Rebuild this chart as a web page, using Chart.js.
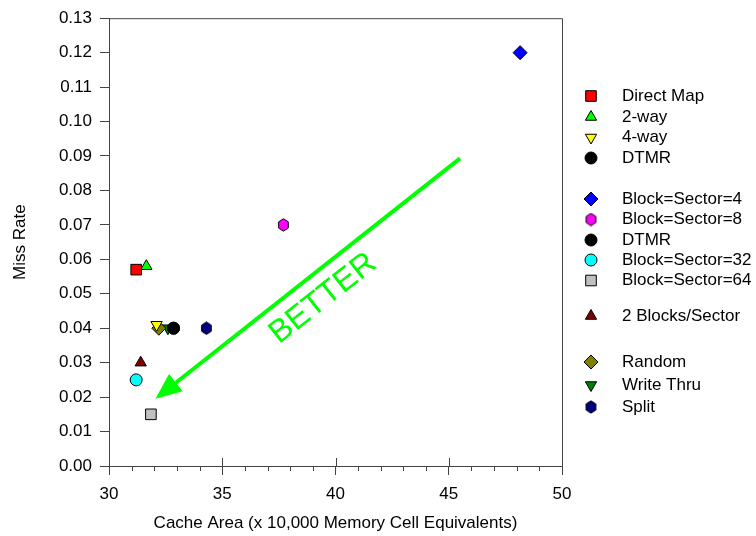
<!DOCTYPE html>
<html>
<head>
<meta charset="utf-8">
<script src="https://cdn.jsdelivr.net/npm/chart.js@4.4.0/dist/chart.umd.min.js"></script>
<style>
  body { margin: 0; background: #fff; }
  #wrap { width: 756px; height: 536px; }
</style>
</head>
<body>
<div id="wrap"><canvas id="chart" width="756" height="536"></canvas></div>
<script>
// series
const seriesNames = ['Direct Map', '2-way', '4-way', 'DTMR', 'Block=Sector=4', 'Block=Sector=8', 'DTMR',
    'Block=Sector=32', 'Block=Sector=64', '2 Blocks/Sector', 'Random', 'Write Thru', 'Split'];
const cacheArea = [31.2, 31.65, 32.1, 32.85, 48.15, 37.7, 32.85, 31.2, 31.85, 31.4, 32.2, 32.6, 34.3];
const missRate = [0.057, 0.058, 0.041, 0.040, 0.120, 0.070, 0.040, 0.025, 0.015, 0.030, 0.040, 0.040, 0.040];
const markerColors = ['#ff0000', '#00ff00', '#ffff00', '#000000', '#0000ff', '#ff00ff', '#000000',
    '#00ffff', '#c0c0c0', '#800000', '#808000', '#008000', '#000080'];
const markerShapes = ['square', 'up', 'down', 'circle', 'diamond', 'hexagon', 'circle',
    'circle', 'square', 'up', 'diamond', 'down', 'hexagon'];

const xTicks = [30, 35, 40, 45, 50];
const yTicks = [0, 0.01, 0.02, 0.03, 0.04, 0.05, 0.06, 0.07, 0.08, 0.09, 0.10, 0.11, 0.12, 0.13];

// "BETTER" arrow, in data units
const arrowFrom = [45.5, 0.0893];
const arrowTo = [32.05, 0.0195];
const betterAt = [39.45, 0.0486];

// legend row centres (the original leaves gaps between groups)
const legendRowY = [96, 117, 137.5, 158, 199, 219.5, 240, 260, 280.5, 316, 362, 385, 407];

const FONT = 'Liberation Sans, Arial, sans-serif';
Chart.defaults.font.family = FONT;
Chart.defaults.font.size = 17;
Chart.defaults.color = '#000';

function hexMarker(fill) {
    const c = document.createElement('canvas');
    c.width = 13; c.height = 14;
    const g = c.getContext('2d');
    g.beginPath();
    for (let k = 0; k < 6; k++) {
        const a = Math.PI / 2 + k * Math.PI / 3;
        g.lineTo(6.5 + 5.6 * Math.cos(a), 7 + 6.2 * Math.sin(a));
    }
    g.closePath();
    g.fillStyle = fill; g.fill();
    g.strokeStyle = '#000'; g.lineWidth = 1; g.stroke();
    return c;
}

function markerStyle(shape, color) {
    switch (shape) {
        case 'square': return { pointStyle: 'rect', radius: 7.5, rotation: 0 };
        case 'up': return { pointStyle: 'triangle', radius: 6.5, rotation: 0 };
        case 'down': return { pointStyle: 'triangle', radius: 6.5, rotation: 180 };
        case 'diamond': return { pointStyle: 'rectRot', radius: 7, rotation: 0 };
        case 'hexagon': return { pointStyle: hexMarker(color), radius: 6, rotation: 0 };
        default: return { pointStyle: 'circle', radius: 6, rotation: 0 };
    }
}

const datasets = seriesNames.map((name, i) => {
    const m = markerStyle(markerShapes[i], markerColors[i]);
    return {
        label: name,
        data: [{ x: cacheArea[i], y: missRate[i] }],
        showLine: false,
        pointStyle: m.pointStyle,
        pointRadius: m.radius,
        pointRotation: m.rotation,
        backgroundColor: markerColors[i],
        borderColor: '#000',
        pointBorderWidth: 1
    };
});

const decor = {
    id: 'decor',
    beforeDatasetsDraw(chart) {
        const { ctx, scales: { x, y } } = chart;
        const x1 = x.getPixelForValue(arrowFrom[0]), y1 = y.getPixelForValue(arrowFrom[1]);
        const x2 = x.getPixelForValue(arrowTo[0]), y2 = y.getPixelForValue(arrowTo[1]);
        const ang = Math.atan2(y2 - y1, x2 - x1);
        const headLen = 26, headW = 11;
        const bx = x2 - headLen * Math.cos(ang), by = y2 - headLen * Math.sin(ang);
        ctx.save();
        ctx.strokeStyle = '#00ff00';
        ctx.fillStyle = '#00ff00';
        ctx.lineWidth = 4;
        ctx.beginPath();
        ctx.moveTo(x1, y1);
        ctx.lineTo(bx, by);
        ctx.stroke();
        ctx.beginPath();
        ctx.moveTo(x2, y2);
        ctx.lineTo(bx + headW * Math.sin(ang), by - headW * Math.cos(ang));
        ctx.lineTo(bx - headW * Math.sin(ang), by + headW * Math.cos(ang));
        ctx.closePath();
        ctx.fill();
        // label along the arrow
        ctx.translate(x.getPixelForValue(betterAt[0]), y.getPixelForValue(betterAt[1]));
        ctx.rotate(Math.atan2(y1 - y2, x1 - x2));
        ctx.font = '32px ' + FONT;
        ctx.textAlign = 'center';
        ctx.textBaseline = 'middle';
        ctx.fillText('BETTER', 0, 0);
        ctx.restore();
    },
    afterDraw(chart) {
        const { ctx, chartArea: a, scales: { x } } = chart;
        ctx.save();
        // frame top / right
        ctx.strokeStyle = '#444';
        ctx.lineWidth = 1;
        ctx.beginPath();
        ctx.moveTo(a.left, a.top + 0.5);
        ctx.lineTo(a.right + 0.5, a.top + 0.5);
        ctx.lineTo(a.right + 0.5, a.bottom);
        ctx.stroke();
        // x minor ticks and inner half of major ticks
        ctx.beginPath();
        for (let v = 30; v <= 50; v++) {
            const px = Math.round(x.getPixelForValue(v)) + 0.5;
            if (v % 5 === 0) {
                ctx.moveTo(px, a.bottom - 8);
                ctx.lineTo(px, a.bottom);
            } else {
                ctx.moveTo(px, a.bottom);
                ctx.lineTo(px, a.bottom + 5);
            }
        }
        ctx.stroke();
        // legend
        ctx.font = '17px ' + FONT;
        ctx.textAlign = 'left';
        ctx.textBaseline = 'middle';
        chart.data.datasets.forEach((ds, i) => {
            const yy = legendRowY[i];
            ctx.fillStyle = ds.backgroundColor;
            ctx.strokeStyle = '#000';
            ctx.lineWidth = 1;
            Chart.helpers.drawPoint(ctx, {
                pointStyle: ds.pointStyle, radius: ds.pointRadius,
                rotation: ds.pointRotation, borderWidth: 1
            }, 591, yy);
            ctx.fillStyle = '#000';
            ctx.fillText(ds.label, 622, yy);
        });
        ctx.restore();
    }
};

new Chart(document.getElementById('chart'), {
    type: 'scatter',
    data: { datasets },
    plugins: [decor],
    options: {
        responsive: false,
        animation: false,
        events: [],
        layout: { padding: { top: 14, right: 194, left: 0, bottom: 0 } },
        plugins: { legend: { display: false }, tooltip: { enabled: false } },
        scales: {
            x: {
                type: 'linear', min: 30, max: 50,
                afterBuildTicks: s => { s.ticks = xTicks.map(v => ({ value: v })); },
                afterFit: s => { s.height = 70; },
                ticks: { padding: 9, maxRotation: 0 },
                grid: { drawOnChartArea: false, tickLength: 9, color: '#444' },
                border: { color: '#444' },
                title: { display: true, text: 'Cache Area (x 10,000 Memory Cell Equivalents)', padding: { top: 0, bottom: 2 } }
            },
            y: {
                type: 'linear', min: 0, max: 0.13,
                afterBuildTicks: s => { s.ticks = yTicks.map(v => ({ value: v })); },
                afterFit: s => { s.width = 109; },
                ticks: { padding: 8, callback: v => v.toFixed(2) },
                grid: { drawOnChartArea: false, tickLength: 9, color: '#444' },
                border: { color: '#444' },
                title: { display: true, text: 'Miss Rate', padding: { top: 10, bottom: 0 } }
            }
        }
    }
});
</script>
</body>
</html>
